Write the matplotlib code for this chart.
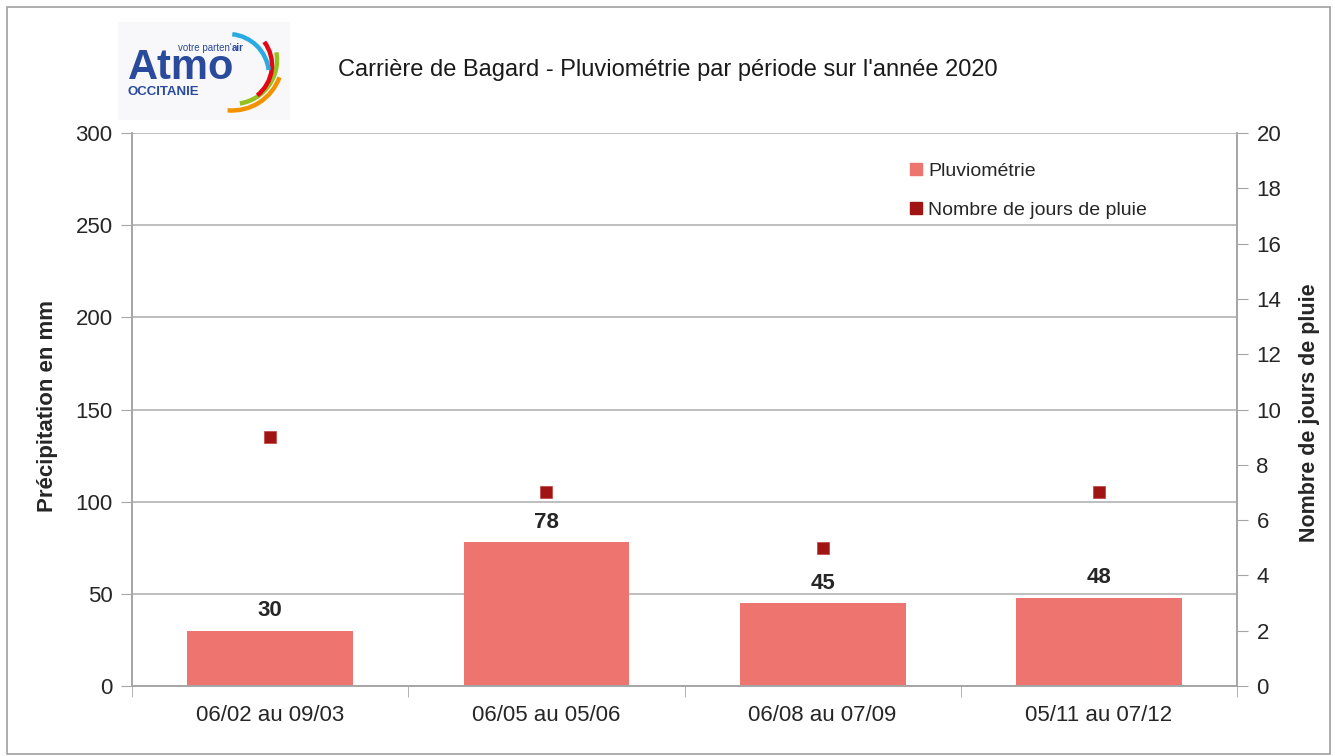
import matplotlib
matplotlib.use("Agg")
import matplotlib.pyplot as plt
from matplotlib.patches import Arc, Ellipse, Rectangle
from matplotlib.lines import Line2D
import numpy as np

categories = ["06/02 au 09/03", "06/05 au 05/06", "06/08 au 07/09", "05/11 au 07/12"]
pluvio = [30, 78, 45, 48]
jours = [9, 7, 5, 7]
left_ticks = [0, 50, 100, 150, 200, 250, 300]
right_ticks = [0, 2, 4, 6, 8, 10, 12, 14, 16, 18, 20]

plt.rcParams['font.family'] = ['Liberation Sans', 'DejaVu Sans']

W, H = 1335, 756
fig = plt.figure(figsize=(W / 100, H / 100), dpi=100)

def fx(px):
    return px / W

def fy(py):
    return 1 - py / H

# outer border
fig.patches.append(Rectangle((fx(7), fy(754)), fx(1330) - fx(7), fy(7) - fy(754),
                             transform=fig.transFigure, fill=False, edgecolor='#a0a0a0', lw=1.2))

ax = fig.add_axes([fx(132), fy(686), fx(1237) - fx(132), fy(133) - fy(686)])
ax2 = ax.twinx()

gray = '#a6a6a6'
txt = '#262626'
x = np.arange(len(categories))
ax.bar(x, pluvio, width=0.6, color='#ee7470', zorder=2)
for xi, v in zip(x, pluvio):
    ax.text(xi, v + 5, str(v), ha='center', va='bottom', fontsize=16, fontweight='bold', color=txt)

ax2.plot(x, jours, linestyle='none', marker='s', markersize=9.3, color='#a01414',
         markeredgecolor='#c04040', markeredgewidth=0.5, zorder=3)

ax.set_xlim(-0.5, len(categories) - 0.5)
ax.set_ylim(0, 300)
ax2.set_ylim(0, 20)
ax.set_yticks(left_ticks)
ax2.set_yticks(right_ticks)
ax.set_xticks(x)
ax.set_xticklabels(categories)
ax.set_xticks(np.arange(len(categories) + 1) - 0.5, minor=True)
ax.tick_params(axis='x', which='major', length=0, pad=14, labelsize=16, labelcolor=txt)
ax.tick_params(axis='x', which='minor', length=8, color=gray, direction='out')
ax.tick_params(axis='y', length=8, color=gray, direction='out', pad=6, labelsize=16, labelcolor=txt)
ax2.tick_params(axis='y', length=8, color=gray, direction='out', pad=6, labelsize=16, labelcolor=txt)

ax.yaxis.grid(True, color='#b3b3b3', lw=1.2, zorder=0)
ax.set_axisbelow(True)
for a in (ax, ax2):
    a.spines['top'].set_visible(False)
    for s in ('left', 'right', 'bottom'):
        a.spines[s].set_color(gray)
        a.spines[s].set_linewidth(1.2)

fig.text(fx(48), fy(406), "Précipitation en mm", rotation=90, ha='center', va='center',
         fontsize=16, fontweight='bold', color=txt)
fig.text(fx(1310), fy(413), "Nombre de jours de pluie", rotation=90, ha='center', va='center',
         fontsize=15.5, fontweight='bold', color=txt)

fig.text(fx(668), fy(70), "Carrière de Bagard - Pluviométrie par période sur l'année 2020",
         ha='center', va='center', fontsize=17, color='#1a1a1a')

handles = [Line2D([], [], linestyle='none', marker='s', markersize=8, color='#ee7470'),
           Line2D([], [], linestyle='none', marker='s', markersize=8, color='#a01414')]
fig.legend(handles, ["Pluviométrie", "Nombre de jours de pluie"], loc='upper left',
           bbox_to_anchor=(fx(893), fy(145)), frameon=False, fontsize=14,
           handlelength=0.6, handletextpad=0.3, labelspacing=1.1, labelcolor=txt)

# logo (axes in pixel units: x = px - 118, y = 120 - py)
lax = fig.add_axes([fx(118), fy(120), fx(290) - fx(118), fy(22) - fy(120)])
lax.set_xlim(0, 172)
lax.set_ylim(0, 98)
lax.axis('off')
lax.add_patch(Rectangle((0, 0), 172, 98, color='#f8f8fa', zorder=0))
blue = '#2a4a9c'
lax.text(128 - 118, 120 - 79, "Atmo", fontsize=30, fontweight='bold', color=blue, va='baseline')
lax.text(128 - 118, 120 - 95, "OCCITANIE", fontsize=9.5, fontweight='bold', color=blue, va='baseline')
t1 = lax.text(178 - 118, 120 - 51, "votre parten'", fontsize=7, color=blue, va='baseline')
renderer = fig.canvas.get_renderer()
bb = t1.get_window_extent(renderer=renderer)
x_air = lax.transData.inverted().transform((bb.x1, bb.y0))[0]
lax.text(x_air, 120 - 51, "air", fontsize=7, fontweight='bold', color=blue, va='baseline')
# arcs: (center px, center py, width, height, theta1, theta2, colour)
for cxp, cyp, w, h, a1, a2, c in [(232, 60, 101, 101, -95, -20, '#f39200'),
                                  (233, 60, 88, 88, -81, 10, '#95c11f'),
                                  (230, 65, 84, 80, -48, 34, '#e30613'),
                                  (228, 75, 82, 82, 7, 84, '#29abe2')]:
    lax.add_patch(Arc((cxp - 118, 120 - cyp), w, h, theta1=a1, theta2=a2, color=c, lw=3.2))

fig.savefig("out.png", dpi=100)
